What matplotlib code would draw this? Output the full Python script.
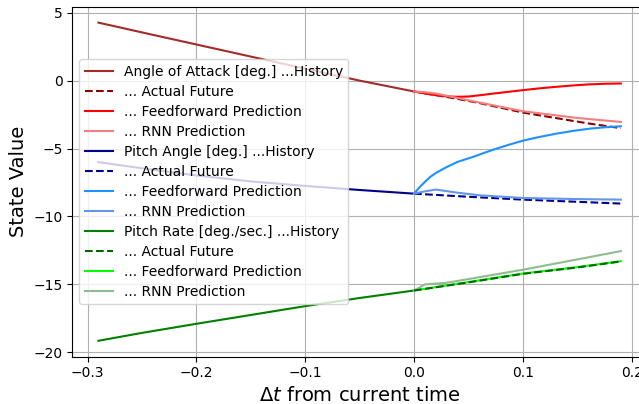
import matplotlib
matplotlib.use("Agg")
import matplotlib.pyplot as plt

# --- time axes (seconds relative to the current time) ---
hist_t = [-0.29, -0.25, -0.2, -0.15, -0.1, -0.05, 0.0]

# --- Angle of Attack [deg.] ---
aoa_hist = [4.27, 3.55, 2.66, 1.77, 0.88, 0.0, -0.8]
aoa_act_t = [0.0, 0.03, 0.06, 0.1, 0.13, 0.16, 0.19]
aoa_act = [-0.8, -1.2, -1.65, -2.35, -2.75, -3.15, -3.5]
aoa_ff_t = [0.0, 0.005, 0.01, 0.02, 0.03, 0.04, 0.05, 0.06, 0.07, 0.085,
            0.1, 0.115, 0.13, 0.145, 0.16, 0.175, 0.19]
aoa_ff = [-0.8, -0.87, -0.95, -1.07, -1.16, -1.19, -1.17, -1.08, -0.98, -0.84,
          -0.7, -0.57, -0.46, -0.36, -0.28, -0.23, -0.21]
aoa_rnn_t = [0.0, 0.01, 0.02, 0.05, 0.1, 0.15, 0.19]
aoa_rnn = [-0.8, -0.85, -0.95, -1.45, -2.25, -2.75, -3.04]

# --- Pitch Angle [deg.] ---
pitch_hist = [-6.0, -6.45, -6.98, -7.42, -7.75, -8.05, -8.32]
pitch_act_t = [0.0, 0.05, 0.1, 0.15, 0.19]
pitch_act = [-8.32, -8.55, -8.76, -8.92, -9.05]
pitch_ff_t = [0.0, 0.005, 0.01, 0.015, 0.02, 0.03, 0.04, 0.054, 0.065, 0.076,
              0.088, 0.1, 0.115, 0.131, 0.146, 0.162, 0.176, 0.19]
pitch_ff = [-8.32, -7.85, -7.45, -7.08, -6.8, -6.36, -5.98, -5.62, -5.3, -5.0,
            -4.7, -4.42, -4.15, -3.9, -3.7, -3.53, -3.43, -3.36]
pitch_rnn_t = [0.0, 0.01, 0.02, 0.04, 0.06, 0.1, 0.15, 0.19]
pitch_rnn = [-8.32, -8.15, -8.02, -8.25, -8.44, -8.64, -8.72, -8.76]

# --- Pitch Rate [deg./sec.] ---
rate_hist = [-19.15, -18.57, -17.9, -17.25, -16.6, -16.0, -15.45]
rate_act_t = [0.0, 0.05, 0.1, 0.15, 0.19]
rate_act = [-15.45, -14.85, -14.22, -13.75, -13.31]
rate_ff_t = [0.0, 0.05, 0.1, 0.15, 0.19]
rate_ff = [-15.45, -14.83, -14.2, -13.73, -13.29]
rate_rnn_t = [0.0, 0.01, 0.03, 0.1, 0.15, 0.19]
rate_rnn = [-15.45, -15.0, -14.88, -13.92, -13.16, -12.55]

fig = plt.figure(figsize=(6.39, 4.04), dpi=100)
ax = fig.add_axes([0.1131, 0.1171, 0.8994, 0.8663])

# angle of attack
ax.plot(hist_t, aoa_hist, color='brown', label='Angle of Attack [deg.] ...History')
ax.plot(aoa_act_t, aoa_act, '--', color='darkred', label='... Actual Future')
ax.plot(aoa_ff_t, aoa_ff, color='red', label='... Feedforward Prediction')
ax.plot(aoa_rnn_t, aoa_rnn, color='lightcoral', label='... RNN Prediction')

# pitch angle
ax.plot(hist_t, pitch_hist, color='darkblue', label='Pitch Angle [deg.] ...History')
ax.plot(pitch_act_t, pitch_act, '--', color='darkblue', label='... Actual Future')
ax.plot(pitch_ff_t, pitch_ff, color='dodgerblue', label='... Feedforward Prediction')
ax.plot(pitch_rnn_t, pitch_rnn, color='cornflowerblue', label='... RNN Prediction')

# pitch rate
ax.plot(hist_t, rate_hist, color='green', label='Pitch Rate [deg./sec.] ...History')
ax.plot(rate_act_t, rate_act, '--', color='darkgreen', label='... Actual Future', zorder=3)
ax.plot(rate_ff_t, rate_ff, color='lime', label='... Feedforward Prediction')
ax.plot(rate_rnn_t, rate_rnn, color='darkseagreen', label='... RNN Prediction')

ax.set_xlabel(r'$\Delta t$ from current time', fontsize=14)
ax.set_ylabel('State Value', fontsize=14)
ax.grid(True)
ax.legend(loc='center left', fontsize=10, labelspacing=0.43)

fig.savefig('out.png', dpi=100)
